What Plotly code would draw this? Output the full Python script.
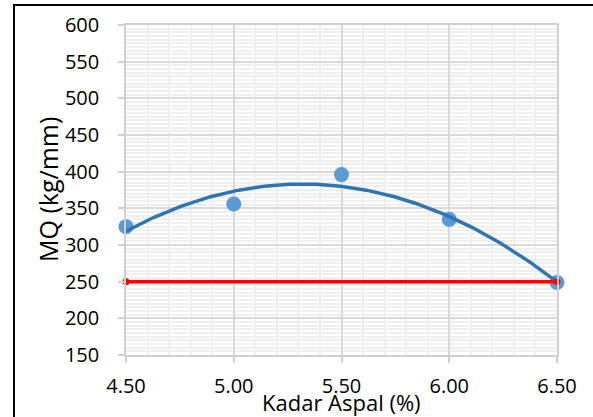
import numpy as np
import plotly.graph_objects as go

kadar_aspal = [4.5, 5.0, 5.5, 6.0, 6.5]
mq_values = [325, 356, 396, 335, 249]
spec_x = [4.5, 6.5]
spec_y = [250, 250]

coef = np.polyfit(kadar_aspal, mq_values, 2)
xt = np.linspace(min(kadar_aspal), max(kadar_aspal), 200)
yt = np.polyval(coef, xt)

fig = go.Figure()
fig.add_trace(go.Scatter(x=kadar_aspal, y=mq_values, mode="markers", cliponaxis=False,
                         marker=dict(size=15, color="#5B9BD5"), showlegend=False))
fig.add_trace(go.Scatter(x=xt, y=yt, mode="lines", cliponaxis=False,
                         line=dict(color="#2E75B6", width=3.5), showlegend=False))
fig.add_trace(go.Scatter(x=spec_x, y=spec_y, mode="lines+markers", cliponaxis=False,
                         line=dict(color="#FF0000", width=3.5),
                         marker=dict(size=7, color="#FF0000"), showlegend=False))

font = "Open Sans, Noto Sans, DejaVu Sans, sans-serif"
L, T, W, H = 126, 25, 431, 330
fig.update_layout(
    width=593, height=417,
    margin=dict(l=L, r=593 - L - W, t=T, b=417 - T - H),
    paper_bgcolor="white", plot_bgcolor="white",
    font=dict(family=font, color="black", size=20),
    xaxis=dict(range=[4.5, 6.5], dtick=0.5, tick0=4.5, tickformat=".2f",
               showgrid=True, gridcolor="#d9d9d9", gridwidth=1.5,
               minor=dict(dtick=0.1, showgrid=True, gridcolor="#efefef", gridwidth=1.5),
               showline=True, linecolor="#d0d0d0", linewidth=1.5, mirror=True,
               ticks="outside", ticklen=6, tickcolor="#d0d0d0", tickwidth=1.5,
               zeroline=False, tickfont=dict(size=20), ticklabelstandoff=6),
    yaxis=dict(range=[150, 600], dtick=50,
               showgrid=True, gridcolor="#d9d9d9", gridwidth=1.5,
               minor=dict(dtick=5, showgrid=True, gridcolor="#efefef", gridwidth=1.5),
               showline=True, linecolor="#d0d0d0", linewidth=1.5, mirror=True,
               ticks="outside", ticklen=6, tickcolor="#d0d0d0", tickwidth=1.5,
               zeroline=False, tickfont=dict(size=20), ticklabelstandoff=15),
    annotations=[
        dict(text="MQ (kg/mm)", xref="paper", yref="paper",
             x=(48 - L) / W, y=0.5, xanchor="center", yanchor="middle",
             textangle=-90, showarrow=False, font=dict(size=25)),
        dict(text="Kadar Aspal (%)", xref="paper", yref="paper",
             x=(341 - L) / W, y=(T + H - 402) / H, xanchor="center", yanchor="middle",
             showarrow=False, font=dict(size=22)),
    ],
    shapes=[dict(type="rect", xref="paper", yref="paper",
                 x0=(14 - L) / W, x1=(620 - L) / W,
                 y0=(T + H - 440) / H, y1=(T + H - 5) / H,
                 line=dict(color="black", width=2), layer="below")],
)
fig.write_html("out.html")
